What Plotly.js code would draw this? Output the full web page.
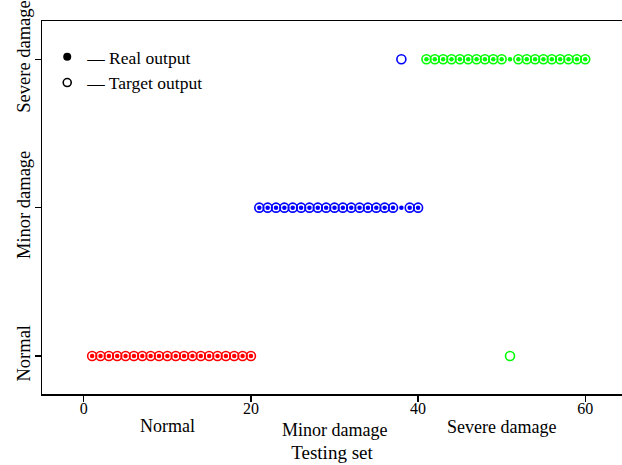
<!DOCTYPE html>
<html>
<head>
<meta charset="utf-8">
<script src="https://cdn.plot.ly/plotly-3.0.1.min.js"></script>
<style>
  html, body { margin: 0; padding: 0; background: #ffffff; }
  #chart { width: 622px; height: 465px; }
</style>
</head>
<body>
<div id="chart"></div>
<script>
// Test sample index (60 samples, 20 per condition)
const sampleIndex = [
  1, 2, 3, 4, 5, 6, 7, 8, 9, 10, 11, 12, 13, 14, 15, 16, 17, 18, 19, 20,
  21, 22, 23, 24, 25, 26, 27, 28, 29, 30, 31, 32, 33, 34, 35, 36, 37, 38, 39, 40,
  41, 42, 43, 44, 45, 46, 47, 48, 49, 50, 51, 52, 53, 54, 55, 56, 57, 58, 59, 60
];

// Real output class per sample (1 = Normal, 2 = Minor damage, 3 = Severe damage)
const realOutput = [
  1, 1, 1, 1, 1, 1, 1, 1, 1, 1, 1, 1, 1, 1, 1, 1, 1, 1, 1, 1,
  2, 2, 2, 2, 2, 2, 2, 2, 2, 2, 2, 2, 2, 2, 2, 2, 2, 2, 2, 2,
  3, 3, 3, 3, 3, 3, 3, 3, 3, 3, 3, 3, 3, 3, 3, 3, 3, 3, 3, 3
];

// Target output class per sample
const targetOutput = [
  1, 1, 1, 1, 1, 1, 1, 1, 1, 1, 1, 1, 1, 1, 1, 1, 1, 1, 1, 1,
  2, 2, 2, 2, 2, 2, 2, 2, 2, 2, 2, 2, 2, 2, 2, 2, 2, 3, 2, 2,
  3, 3, 3, 3, 3, 3, 3, 3, 3, 3, 1, 3, 3, 3, 3, 3, 3, 3, 3, 3
];

const classValues = [1, 2, 3];
const classLabels = ['Normal', 'Minor damage', 'Severe damage'];
const classColors = ['#ff0000', '#0000ff', '#00ff00'];

// Group labels written under the x axis, centred on each block of samples
const groupCenters = [10, 30, 50];
const groupLabels = ['Normal', 'Minor damage', 'Severe damage'];
const groupShifts = [-32, -36, -33];

const pointColors = realOutput.map(c => classColors[c - 1]);
const serif = 'Liberation Serif, Times New Roman, serif';

const traces = [
  {
    x: sampleIndex, y: targetOutput, type: 'scatter', mode: 'markers',
    showlegend: false, hoverinfo: 'x+y', cliponaxis: false,
    marker: { symbol: 'circle-open', size: 9, color: pointColors, line: { width: 1.6, color: pointColors } }
  },
  {
    x: sampleIndex, y: realOutput, type: 'scatter', mode: 'markers',
    showlegend: false, hoverinfo: 'x+y', cliponaxis: false,
    marker: { symbol: 'circle', size: 4.5, color: pointColors }
  },
  // legend keys
  {
    x: [null], y: [null], type: 'scatter', mode: 'markers', name: '\u2014 Real output',
    marker: { symbol: 'circle', size: 8, color: '#000000' }
  },
  {
    x: [null], y: [null], type: 'scatter', mode: 'markers', name: '\u2014 Target output',
    marker: { symbol: 'circle-open', size: 8, color: '#000000', line: { width: 1.6, color: '#000000' } }
  }
];

const layout = {
  width: 622, height: 465,
  margin: { l: 42, r: 0, t: 21, b: 71 },
  paper_bgcolor: '#ffffff', plot_bgcolor: '#ffffff',
  font: { family: serif, size: 17, color: '#000000' },
  showlegend: true,
  legend: {
    x: 0.009, y: 0.952, xanchor: 'left', yanchor: 'top',
    bgcolor: 'rgba(0,0,0,0)', borderwidth: 0,
    font: { family: serif, size: 17.5, color: '#000000' },
    itemwidth: 30, tracegroupgap: 0
  },
  xaxis: {
    range: [-5, 64.4], showgrid: false, zeroline: false,
    showline: true, linecolor: '#000000', linewidth: 1.5, mirror: true,
    ticks: 'outside', ticklen: 6, tickwidth: 1.2, tickcolor: '#000000',
    tickvals: [0, 20, 40, 60], ticktext: ['0', '20', '40', '60'],
    tickfont: { family: serif, size: 16 }, ticklabelstandoff: -7,
    title: { text: 'Testing set', font: { family: serif, size: 19 }, standoff: 30 }
  },
  yaxis: {
    range: [0.744, 3.258], showgrid: false, zeroline: false,
    showline: true, linecolor: '#000000', linewidth: 1.5,
    ticks: 'outside', ticklen: 6, tickwidth: 1.2, tickcolor: '#000000',
    tickvals: classValues, ticktext: classLabels, tickangle: -90,
    tickfont: { family: serif, size: 18.5 }, ticklabelstandoff: -3
  },
  annotations: groupCenters.map((cx, i) => ({
    x: cx, y: 0, xref: 'x', yref: 'paper', text: groupLabels[i],
    showarrow: false, xanchor: 'center', yanchor: 'middle', yshift: groupShifts[i],
    font: { family: serif, size: 18, color: '#000000' }
  }))
};

Plotly.newPlot('chart', traces, layout, { displayModeBar: false, staticPlot: true });
</script>
</body>
</html>
